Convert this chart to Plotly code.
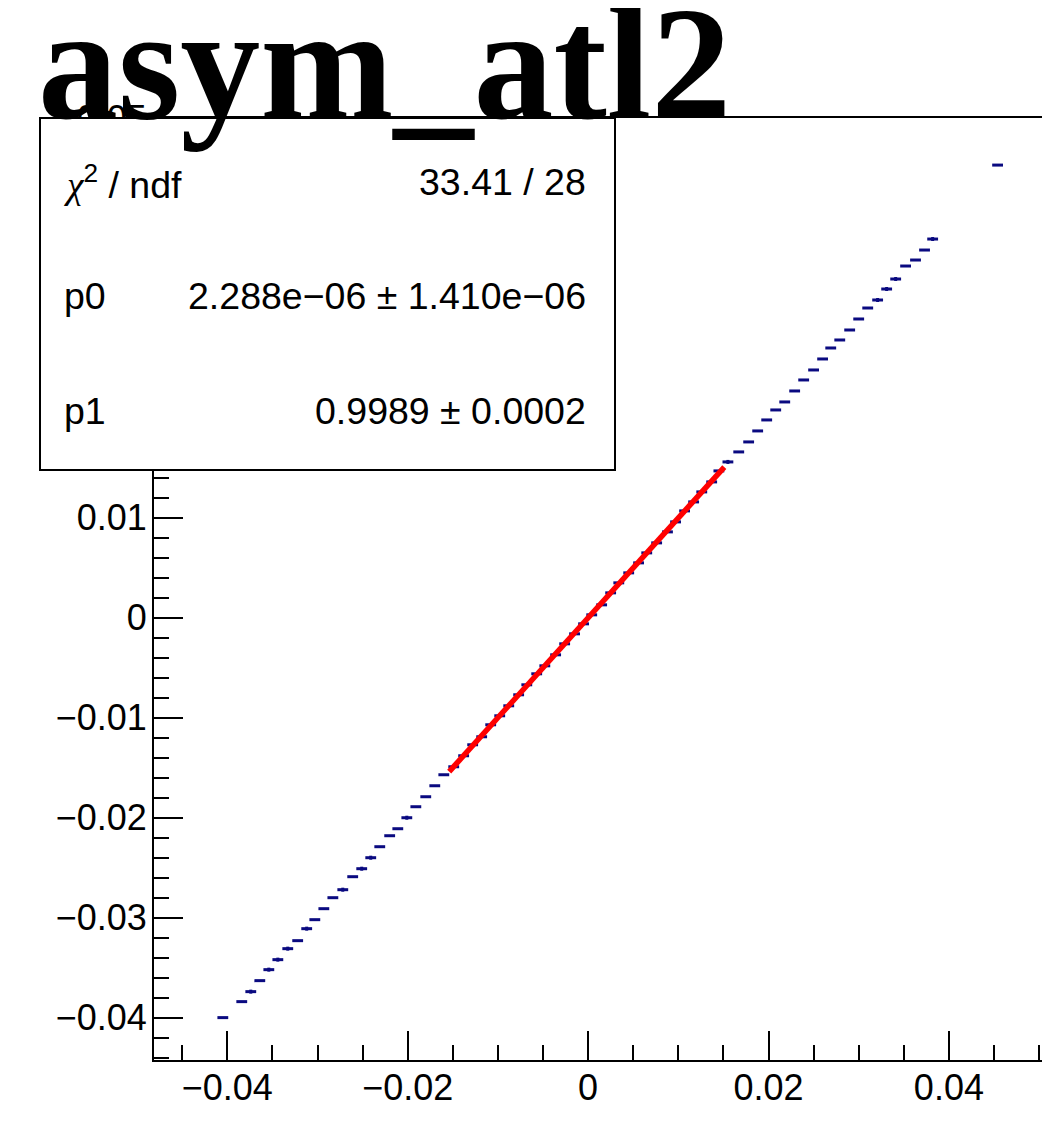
import plotly.graph_objects as go

# ---- data ----
bin_x = [-0.0405, -0.0384, -0.0374, -0.0364, -0.0354, -0.0344, -0.0333, -0.0322, -0.0312, -0.0303,
         -0.0293, -0.0283, -0.0272,
         -0.0261, -0.0251, -0.0241, -0.0231, -0.0220, -0.0211, -0.0201, -0.0191, -0.0180, -0.0170,
         -0.0160, -0.0149, -0.0138, -0.0128,
         -0.0118, -0.0108, -0.0098, -0.0088, -0.0077, -0.0068, -0.0057, -0.0048, -0.0036, -0.0026,
         -0.0015, -0.0005, 0.0004, 0.0015,
         0.0025, 0.0034, 0.0045, 0.0056, 0.0065, 0.0076, 0.0088, 0.0097, 0.0107, 0.0117,
         0.0126, 0.0137, 0.0145, 0.0155,
         0.0167, 0.0178, 0.0188, 0.0198, 0.0208, 0.0218, 0.0229, 0.0239, 0.0250, 0.0260,
         0.0269, 0.0279, 0.0290, 0.0300, 0.0310,
         0.0321, 0.0331, 0.0341, 0.0352, 0.0363, 0.0373, 0.0382, 0.0454]
prof_y = [-0.0400, -0.0384, -0.0374, -0.0363, -0.0352, -0.0342, -0.0331, -0.0323, -0.0311, -0.0302,
          -0.0291, -0.0280, -0.0272,
          -0.0259, -0.0251, -0.0240, -0.0229, -0.0218, -0.0211, -0.0200, -0.0189, -0.0179, -0.0168,
          -0.0157, -0.0149, -0.0138, -0.0127,
          -0.0119, -0.0107, -0.0098, -0.0088, -0.0077, -0.0067, -0.0056, -0.0048, -0.0037, -0.0026,
          -0.0016, -0.0006, 0.0003, 0.0013,
          0.0025, 0.0035, 0.0045, 0.0055, 0.0065, 0.0075, 0.0086, 0.0096, 0.0107, 0.0116,
          0.0126, 0.0136, 0.0147, 0.0156,
          0.0166, 0.0176, 0.0187, 0.0198, 0.0208, 0.0216, 0.0227, 0.0238, 0.0248, 0.0259,
          0.0270, 0.0278, 0.0288, 0.0299, 0.0310,
          0.0318, 0.0329, 0.0339, 0.0352, 0.0358, 0.0368, 0.0379, 0.0453]
prof_yerr = [0.00005, 0.00005, 0.0002, 0.00005, 0.0002, 0.0002, 0.0002, 0.00005, 0.0002, 0.00005,
             0.00005, 0.00005, 0.0002,
             0.00005, 0.0002, 0.0002, 0.00005, 0.00005, 0.00005, 0.0002, 0.00005, 0.00005, 0.00005,
             0.00005, 0.00005, 0.00005, 0.00005,
             0.00005, 0.00005, 0.00005, 0.00005, 0.00005, 0.00005, 0.00005, 0.00005, 0.00005, 0.00005,
             0.00005, 0.00005, 0.00005, 0.00005,
             0.00005, 0.00005, 0.00005, 0.00005, 0.00005, 0.00005, 0.00005, 0.00005, 0.00005, 0.00005,
             0.00005, 0.00005, 0.00005, 0.0002,
             0.00005, 0.00005, 0.00005, 0.00005, 0.00005, 0.00005, 0.00005, 0.00005, 0.00005, 0.00005,
             0.00005, 0.00005, 0.00005, 0.00005, 0.00005,
             0.0002, 0.0002, 0.0002, 0.00005, 0.00005, 0.00005, 0.0002, 0.00005]
bin_half_width = 0.0006

fit_p0 = 2.288e-06
fit_p1 = 0.9989
fit_range = [-0.0154, 0.0151]

title_text = "asym_atl2"
stats_labels = ["<span style=\"font-family:'Liberation Serif'\"><i>χ</i></span><sup>2</sup> / ndf", "p0", "p1"]
stats_values = ["33.41 / 28", "2.288e−06 ± 1.410e−06", "0.9989 ± 0.0002"]

# ---- geometry (page pixels; the page body adds an 8 px offset) ----
OFF = 8
W, H = 1050 - OFF, 1128 - OFF
L, T = 154 - OFF, 118 - OFF
R, B = 0, 1128 - 1060
PW, PH = W - L - R, H - T - B


def px(x):
    return (x - OFF - L) / PW


def py(y):
    return (H - B - (y - OFF)) / PH


blue = "#0a0a80"
fig = go.Figure()
fig.add_trace(go.Scatter(
    x=bin_x, y=prof_y, mode="markers",
    marker=dict(size=1, color=blue),
    error_x=dict(type="data", array=[bin_half_width] * len(bin_x), width=0, thickness=3, color=blue),
    error_y=dict(type="data", array=prof_yerr, width=0, thickness=3, color=blue),
    showlegend=False, hoverinfo="skip"))

fit_y = [fit_p0 + fit_p1 * v for v in fit_range]
fig.add_trace(go.Scatter(x=fit_range, y=fit_y, mode="lines",
                         line=dict(color="#ff0000", width=5.5), showlegend=False))

axis_font = dict(family="Liberation Sans, Arial", size=36, color="black")
fig.update_xaxes(range=[-0.04813, 0.05121], dtick=0.02, tick0=0, ticks="inside", ticklen=29,
                 tickwidth=2, tickcolor="black", showline=True, linecolor="black", linewidth=2,
                 mirror=True, showgrid=False, zeroline=False, tickfont=axis_font,
                 ticklabelstandoff=-5,
                 minor=dict(dtick=0.005, tick0=0, ticks="inside", ticklen=15, tickwidth=2,
                            tickcolor="black", showgrid=False))
fig.update_yaxes(range=[-0.04424, 0.05001], dtick=0.01, tick0=0, ticks="inside", ticklen=29,
                 tickwidth=2, tickcolor="black", showline=True, linecolor="black", linewidth=2,
                 mirror=False, showgrid=False, zeroline=False, tickfont=axis_font,
                 ticklabelstandoff=-2,
                 minor=dict(dtick=0.002, tick0=0, ticks="inside", ticklen=15, tickwidth=2,
                            tickcolor="black", showgrid=False))

# stats box
fig.add_shape(type="rect", xref="paper", yref="paper", x0=px(40), x1=px(615), y0=py(470), y1=py(118),
              line=dict(color="black", width=2), fillcolor="white", layer="above")

stat_font = dict(family="Liberation Sans, Arial", size=37.5, color="black")
rows_y = [182, 296, 411]
for lab, val, yy in zip(stats_labels, stats_values, rows_y):
    fig.add_annotation(xref="paper", yref="paper", x=px(62), y=py(yy), text=lab, showarrow=False,
                       xanchor="left", yanchor="middle", font=stat_font)
    fig.add_annotation(xref="paper", yref="paper", x=px(588), y=py(yy), text=val, showarrow=False,
                       xanchor="right", yanchor="middle", font=stat_font)

fig.add_annotation(xref="paper", yref="paper", x=px(36), y=py(64), text=title_text, showarrow=False,
                   xanchor="left", yanchor="middle",
                   font=dict(family="Liberation Serif, Times New Roman", size=160, color="black",
                             weight="bold"))

fig.update_layout(width=W, height=H, margin=dict(l=L, r=R, t=T, b=B),
                  paper_bgcolor="white", plot_bgcolor="white")

fig.write_html("out.html")
